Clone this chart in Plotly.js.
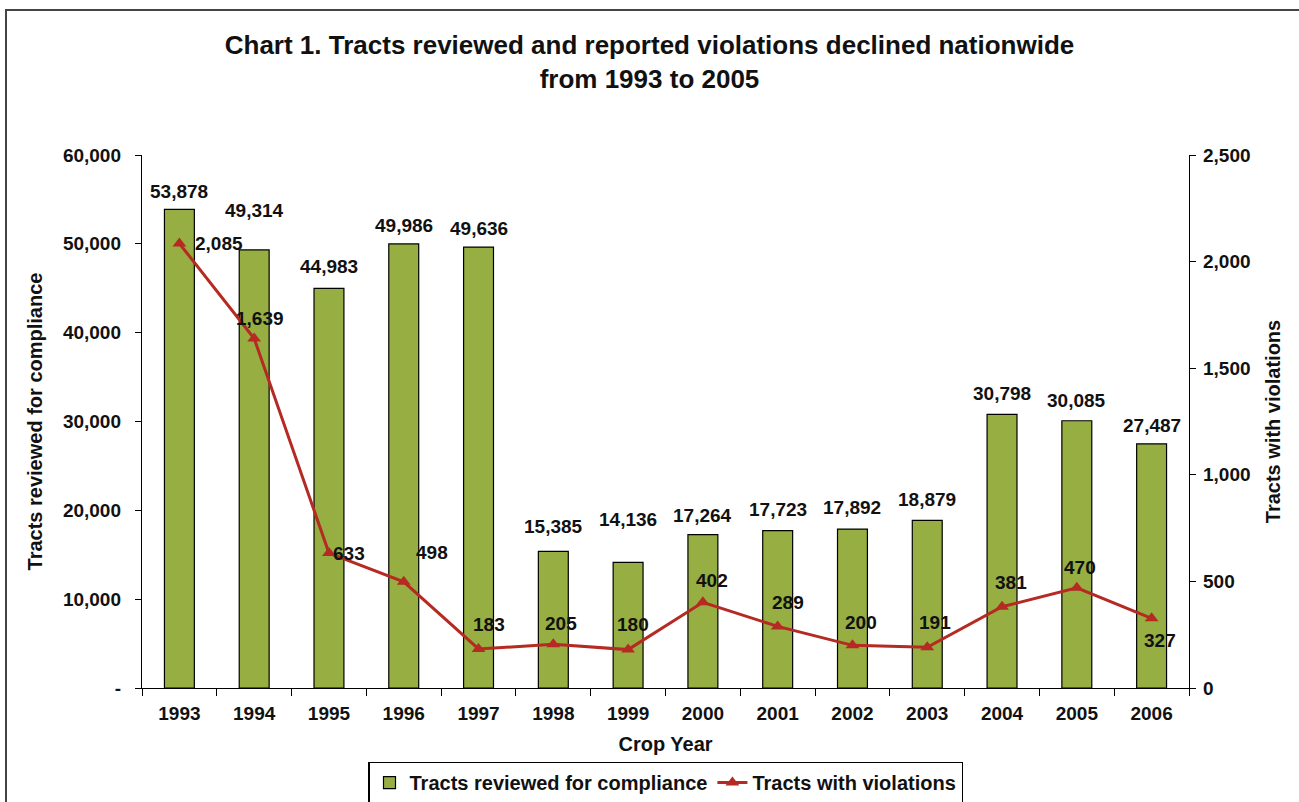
<!DOCTYPE html>
<html>
<head>
<meta charset="utf-8">
<script src="https://cdn.plot.ly/plotly-3.0.1.min.js"></script>
<style>
  html, body { margin: 0; padding: 0; background: #fff; }
  #frame { position: absolute; left: 5px; top: 9px; width: 1294px; height: 793px;
           border-left: 2px solid #444; border-top: 2px solid #444; box-sizing: border-box; pointer-events: none; }
  #chart { position: absolute; left: 0; top: 0; width: 1299px; height: 802px; }
</style>
</head>
<body>
<div id="chart"></div>
<div id="frame"></div>
<script>
const years = ['1993','1994','1995','1996','1997','1998','1999','2000','2001','2002','2003','2004','2005','2006'];
const tractsReviewed = [53878, 49314, 44983, 49986, 49636, 15385, 14136, 17264, 17723, 17892, 18879, 30798, 30085, 27487];
const tractsViolations = [2085, 1639, 633, 498, 183, 205, 180, 402, 289, 200, 191, 381, 470, 327];
const leftTickVals = [0, 10000, 20000, 30000, 40000, 50000, 60000];
const leftTickText = ['-', '10,000', '20,000', '30,000', '40,000', '50,000', '60,000'];

const fam = 'Liberation Sans, Arial, sans-serif';
const bf = (size) => ({ family: fam, size: size, color: '#111', weight: 'bold' });
const fmt = (v) => v.toLocaleString('en-US');

// label placement (pixel offsets from the mark), styling only
const barLabelRise = [18, 39, 22, 18, 19, 25, 43, 19, 21, 22, 21, 21, 20, 18];
const lineLabelDX = [40, 6, 20, 28, 10, 8, 5, 9, 10, 9, 8, 9, 3, 8];
const lineLabelDY = [0, 20, 0, 29, 24, 21, 25, 22, 24, 23, 25, 24, 20, -22];

const traces = [
  {
    type: 'bar',
    name: 'Tracts reviewed for compliance',
    x: years,
    y: tractsReviewed,
    marker: { color: '#97AE42', line: { color: '#000', width: 1.2 } },
    hoverinfo: 'x+y'
  },
  {
    type: 'scatter',
    mode: 'lines+markers',
    name: 'Tracts with violations',
    x: years,
    y: tractsViolations,
    yaxis: 'y2',
    line: { color: '#B52A22', width: 3 },
    marker: { symbol: 'triangle-up', size: 12, color: '#B52A22' }
  }
];

// annotations on a category axis are positioned by category index
const annotations = [];
years.forEach((yr, i) => {
  annotations.push({
    x: i, y: tractsReviewed[i], xref: 'x', yref: 'y',
    text: fmt(tractsReviewed[i]), showarrow: false,
    xanchor: 'center', yanchor: 'middle', yshift: barLabelRise[i],
    font: bf(19)
  });
  annotations.push({
    x: i, y: tractsViolations[i], xref: 'x', yref: 'y2',
    text: fmt(tractsViolations[i]), showarrow: false,
    xanchor: 'center', yanchor: 'middle',
    xshift: lineLabelDX[i], yshift: lineLabelDY[i],
    font: bf(19)
  });
});

const layout = {
  width: 1299,
  height: 802,
  margin: { l: 142, r: 110, t: 155, b: 114, autoexpand: false },
  paper_bgcolor: '#fff',
  plot_bgcolor: '#fff',
  font: bf(18),
  title: {
    text: 'Chart 1. Tracts reviewed and reported violations declined nationwide<br>from 1993 to 2005',
    font: bf(26),
    x: 0.5, xref: 'container', xanchor: 'center',
    y: 0.933, yref: 'container', yanchor: 'top'
  },
  bargap: 0.6,
  showlegend: true,
  legend: {
    orientation: 'h',
    x: 0.5, xanchor: 'center',
    y: -0.138, yanchor: 'top',
    bordercolor: '#000', borderwidth: 1.5,
    font: bf(20),
    traceorder: 'normal'
  },
  annotations: annotations,
  xaxis: {
    type: 'category',
    categoryorder: 'array',
    categoryarray: years,
    range: [-0.5, years.length - 0.5],
    showline: true, linecolor: '#000', linewidth: 1.2,
    ticks: 'outside', tickson: 'boundaries', ticklen: 7, tickcolor: '#000',
    ticklabelstandoff: 8,
    tickfont: bf(19),
    title: { text: 'Crop Year', font: bf(20), standoff: 14 },
    showgrid: false, zeroline: false
  },
  yaxis: {
    range: [0, 60000],
    tickvals: leftTickVals,
    ticktext: leftTickText,
    showline: true, linecolor: '#000', linewidth: 1.2,
    ticks: 'outside', ticklen: 6, tickcolor: '#000',
    ticklabelstandoff: 10,
    tickfont: bf(19),
    title: { text: 'Tracts reviewed for compliance', font: bf(20), standoff: 14 },
    showgrid: false, zeroline: false
  },
  yaxis2: {
    overlaying: 'y',
    side: 'right',
    range: [0, 2500],
    dtick: 500,
    tickformat: ',',
    showline: true, linecolor: '#000', linewidth: 1.2,
    ticks: 'outside', ticklen: 6, tickcolor: '#000',
    ticklabelstandoff: 3,
    tickfont: bf(19),
    title: { text: 'Tracts with violations', font: bf(20), standoff: 16 },
    showgrid: false, zeroline: false
  }
};

Plotly.newPlot('chart', traces, layout, { displayModeBar: false, staticPlot: true });
</script>
</body>
</html>
